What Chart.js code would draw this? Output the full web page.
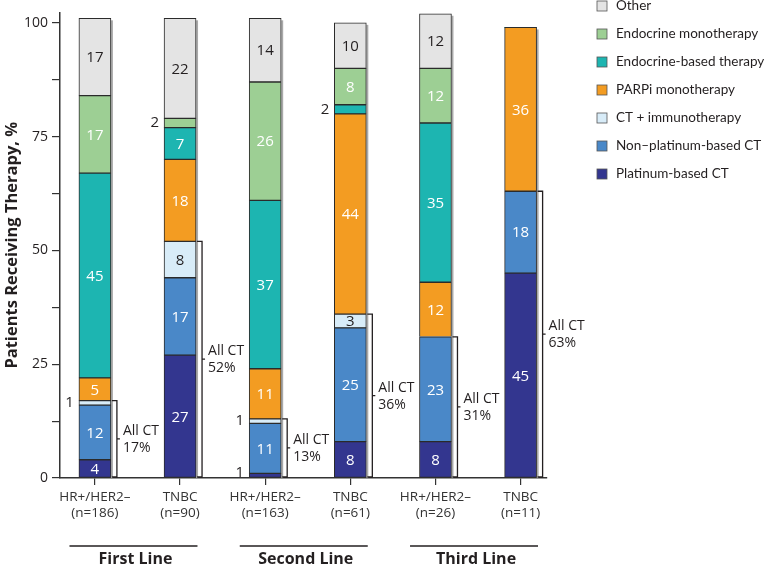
<!DOCTYPE html>
<html>
<head>
<meta charset="utf-8">
<script src="https://cdn.jsdelivr.net/npm/chart.js@4"></script>
<style>
  body { margin: 0; background: #fff; }
</style>
</head>
<body>
<canvas id="chart" width="766" height="567"></canvas>
<script>
// categories (bottom tick labels) and line-of-therapy groups
const categories = [
    ['HR+/HER2–', '(n=186)'], ['TNBC', '(n=90)'],
    ['HR+/HER2–', '(n=163)'], ['TNBC', '(n=61)'],
    ['HR+/HER2–', '(n=26)'], ['TNBC', '(n=11)']
];
const lineGroups = ['First Line', 'Second Line', 'Third Line'];

// percentages, bottom of stack to top
const platinum    = [4, 27, 1, 8, 8, 45];
const nonPlatinum = [12, 17, 11, 25, 23, 18];
const ctImmuno    = [1, 8, 1, 3, 0, 0];
const parpi       = [5, 18, 11, 44, 12, 36];
const endoBased   = [45, 7, 37, 2, 35, 0];
const endoMono    = [17, 2, 26, 8, 12, 0];
const other       = [17, 22, 14, 10, 12, 0];

const yTicks = [0, 25, 50, 75, 100];

const FONT = '"Open Sans", "Noto Sans", sans-serif';
const INK = '#231f20';

const series = [
    { label: 'Platinum-based CT', data: platinum, color: '#33368f', text: '#fff' },
    { label: 'Non–platinum-based CT', data: nonPlatinum, color: '#4a88c8', text: '#fff' },
    { label: 'CT + immunotherapy', data: ctImmuno, color: '#d8ecf8', text: INK },
    { label: 'PARPi monotherapy', data: parpi, color: '#f39c22', text: '#fff' },
    { label: 'Endocrine-based therapy', data: endoBased, color: '#1db5b1', text: '#fff' },
    { label: 'Endocrine monotherapy', data: endoMono, color: '#9dcf94', text: '#fff' },
    { label: 'Other', data: other, color: '#e4e4e4', text: INK }
];

const datasets = series.map(s => ({
    label: s.label,
    data: s.data.map((v, i) => ({ x: i, y: v })),
    backgroundColor: s.color,
    borderColor: '#2b2b2b',
    borderWidth: ctx => (ctx.raw && ctx.raw.y ? 1 : 0),
    borderSkipped: false,
    barThickness: 32,
    textColor: s.text
}));

// segment numbers, small ones go left of the bar
const segmentLabels = {
    id: 'segmentLabels',
    afterDatasetsDraw(chart) {
        const c = chart.ctx;
        c.save();
        c.font = '15px ' + FONT;
        c.textBaseline = 'middle';
        chart.data.datasets.forEach((ds, d) => {
            const meta = chart.getDatasetMeta(d);
            meta.data.forEach((el, i) => {
                const v = ds.data[i].y;
                if (!v) return;
                const p = el.getProps(['x', 'y', 'base', 'width'], true);
                let cy = (p.y + p.base) / 2;
                if (v <= 2) {
                    c.textAlign = 'right';
                    c.fillStyle = INK;
                    if (d === 0) cy -= 3;
                    c.fillText(String(v), p.x - p.width / 2 - 5, cy);
                } else {
                    c.textAlign = 'center';
                    c.fillStyle = ds.textColor;
                    c.fillText(String(v), p.x, cy + 1);
                }
            });
        });
        c.restore();
    }
};

// bar shadow, "All CT" brackets, group lines and legend
const extras = {
    id: 'extras',
    beforeDatasetsDraw(chart) {
        const c = chart.ctx;
        const ys = chart.scales.y;
        c.save();
        c.fillStyle = '#a9a9a9';
        categories.forEach((cat, i) => {
            const el = chart.getDatasetMeta(0).data[i];
            const p = el.getProps(['x', 'width'], true);
            let total = 0;
            series.forEach(s => total += s.data[i]);
            const top = ys.getPixelForValue(total);
            c.fillRect(p.x + p.width / 2, top + 2, 2, ys.getPixelForValue(0) - top - 2);
        });
        c.restore();
    },
    afterDraw(chart) {
        const c = chart.ctx;
        const xs = chart.scales.x;
        const ys = chart.scales.y;
        c.save();

        // brackets
        c.strokeStyle = INK;
        c.lineWidth = 1.3;
        c.font = '14px ' + FONT;
        c.fillStyle = INK;
        c.textAlign = 'left';
        c.textBaseline = 'middle';
        categories.forEach((cat, i) => {
            const allCt = platinum[i] + nonPlatinum[i] + ctImmuno[i];
            const p = chart.getDatasetMeta(0).data[i].getProps(['x', 'width'], true);
            const bx = p.x + p.width / 2 + 1;
            const top = ys.getPixelForValue(allCt);
            const bot = ys.getPixelForValue(0) - 1;
            const mid = (top + bot) / 2;
            c.beginPath();
            c.moveTo(bx, top);
            c.lineTo(bx + 5, top);
            c.lineTo(bx + 5, bot);
            c.lineTo(bx, bot);
            c.moveTo(bx + 5, mid);
            c.lineTo(bx + 8, mid);
            c.stroke();
            c.fillText('All CT', bx + 11, mid - 8);
            c.fillText(allCt + '%', bx + 11, mid + 9);
        });

        // group lines under the tick labels
        c.lineWidth = 1.3;
        c.font = 'bold 16px ' + FONT;
        c.textAlign = 'center';
        lineGroups.forEach((g, k) => {
            const x1 = xs.getPixelForValue(2 * k);
            const x2 = xs.getPixelForValue(2 * k + 1);
            const cx = (x1 + x2) / 2;
            c.beginPath();
            c.moveTo(cx - 68, 546);
            c.lineTo(cx + 60, 546);
            c.stroke();
            c.fillText(g, cx - 2, 559);
        });

        // legend, top of stack first
        c.font = '13.5px Lato, ' + FONT;
        c.textAlign = 'left';
        const items = chart.data.datasets.slice().reverse();
        items.forEach((ds, k) => {
            const yc = 6 + k * 28;
            c.fillStyle = ds.backgroundColor;
            c.fillRect(597, yc - 5, 10, 10);
            c.strokeStyle = '#555';
            c.lineWidth = 0.8;
            c.strokeRect(597, yc - 5, 10, 10);
            c.fillStyle = INK;
            c.fillText(ds.label, 616, yc);
        });
        c.restore();
    }
};

new Chart(document.getElementById('chart'), {
    type: 'bar',
    data: { datasets },
    options: {
        responsive: false,
        animation: false,
        layout: { padding: { top: 0, right: 219, bottom: 0, left: 0 } },
        plugins: {
            legend: { display: false },
            tooltip: { enabled: false }
        },
        scales: {
            x: {
                type: 'linear',
                stacked: true,
                offset: false,
                min: -0.41,
                max: 5.31,
                afterBuildTicks: s => {
                    s.ticks = categories.map((c, i) => ({ value: i }));
                },
                afterFit: s => { s.height = 89; },
                ticks: {
                    autoSkip: false,
                    maxRotation: 0,
                    padding: 4,
                    color: '#333',
                    font: { family: FONT, size: 13.5 },
                    callback: v => categories[v]
                },
                grid: { drawOnChartArea: false, offset: false, tickLength: 7, color: '#333', lineWidth: 1.2 },
                border: { color: '#333', width: 1.5 }
            },
            y: {
                stacked: true,
                min: 0,
                max: 102.3,
                afterBuildTicks: s => {
                    const t = [];
                    for (let v = 0; v <= 100; v += 12.5) t.push({ value: v });
                    s.ticks = t;
                },
                afterFit: s => { s.width = 60; },
                ticks: {
                    padding: 4,
                    color: INK,
                    font: { family: FONT, size: 14 },
                    callback: v => (yTicks.includes(v) ? v : '')
                },
                grid: { drawOnChartArea: false, tickLength: 8, color: '#333', lineWidth: 1.2 },
                border: { color: '#333', width: 1.5 },
                title: {
                    display: true,
                    text: 'Patients Receiving Therapy, %',
                    color: INK,
                    font: { family: FONT, size: 16.5, weight: 'bold' },
                    padding: { top: 2, bottom: 0 }
                }
            }
        }
    },
    plugins: [segmentLabels, extras]
});
</script>
</body>
</html>
